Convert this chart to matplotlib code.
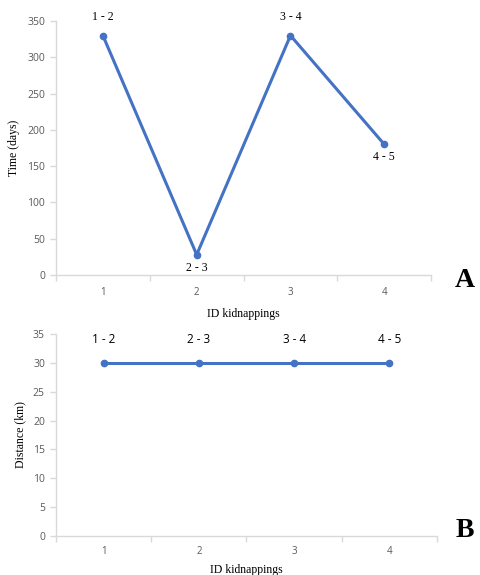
import matplotlib.pyplot as plt

# data
ids = [1, 2, 3, 4]
time_days = [330, 28, 330, 180]
distance_km = [30, 30, 30, 30]
pair_labels = ["1 - 2", "2 - 3", "3 - 4", "4 - 5"]
time_label_pos = ["above", "below", "above", "below"]

blue = "#4472C4"
grey_ax = "#D9D9D9"
grey_txt = "#595959"
serif = ["Liberation Serif", "DejaVu Serif"]
sans = ["Open Sans", "DejaVu Sans"]

fig = plt.figure(figsize=(4.81, 5.75), dpi=100)
ax1 = fig.add_axes([0.1164, 0.5217, 0.780, 0.4418])
ax2 = fig.add_axes([0.1164, 0.0678, 0.792, 0.3513])


def style_axes(ax, ymax, ystep, xpad, lpad):
    ax.set_xlim(0.5, 4.5)
    ax.set_ylim(0, ymax)
    ax.set_yticks(range(0, ymax + 1, ystep))
    for s in ["top", "right"]:
        ax.spines[s].set_visible(False)
    for s in ["left", "bottom"]:
        ax.spines[s].set_color(grey_ax)
        ax.spines[s].set_linewidth(1.0)
    # category axis: ticks at boundaries, labels at centres
    ax.set_xticks([0.5, 1.5, 2.5, 3.5, 4.5])
    ax.set_xticklabels([])
    ax.set_xticks(ids, minor=True)
    ax.set_xticklabels([str(i) for i in ids], minor=True)
    ax.tick_params(axis="x", which="major", length=4, color=grey_ax, width=1)
    ax.tick_params(axis="x", which="minor", length=0, pad=xpad, labelsize=7,
                   labelcolor=grey_txt)
    ax.tick_params(axis="y", length=4, color=grey_ax, width=1, labelsize=7.5,
                   labelcolor=grey_txt, pad=4)
    for t in ax.get_xticklabels(minor=True) + ax.get_yticklabels():
        t.set_family(sans)
    ax.set_xlabel("ID kidnappings", family=serif, fontsize=8.5, labelpad=lpad)


# A: time between kidnappings
style_axes(ax1, 350, 50, 8.5, 7)
ax1.plot(ids, time_days, color=blue, lw=2.2, marker="o", ms=4.5, clip_on=False)
for x, y, lab, pos in zip(ids, time_days, pair_labels, time_label_pos):
    if pos == "above":
        ax1.annotate(lab, (x, y), xytext=(0, 9), textcoords="offset points",
                     ha="center", va="bottom", family=serif, fontsize=8.5)
    else:
        ax1.annotate(lab, (x, y), xytext=(0, -5), textcoords="offset points",
                     ha="center", va="top", family=serif, fontsize=8.5)
ax1.set_ylabel("Time (days)", family=serif, fontsize=8.5, labelpad=5)
fig.text(0.966, 0.512, "A", family=serif, fontsize=20, fontweight="bold",
         ha="center", va="center")

# B: distance between kidnappings
style_axes(ax2, 35, 5, 7, 5)
ax2.plot(ids, distance_km, color=blue, lw=2.2, marker="o", ms=4.5, clip_on=False)
for x, y, lab in zip(ids, distance_km, pair_labels):
    ax2.annotate(lab, (x, y), xytext=(0, 12), textcoords="offset points",
                 ha="center", va="bottom", family=sans, fontsize=8.5)
ax2.set_ylabel("Distance (km)", family=serif, fontsize=8.5, labelpad=5)
fig.text(0.966, 0.078, "B", family=serif, fontsize=20, fontweight="bold",
         ha="center", va="center")

fig.savefig("out.png", dpi=100)
